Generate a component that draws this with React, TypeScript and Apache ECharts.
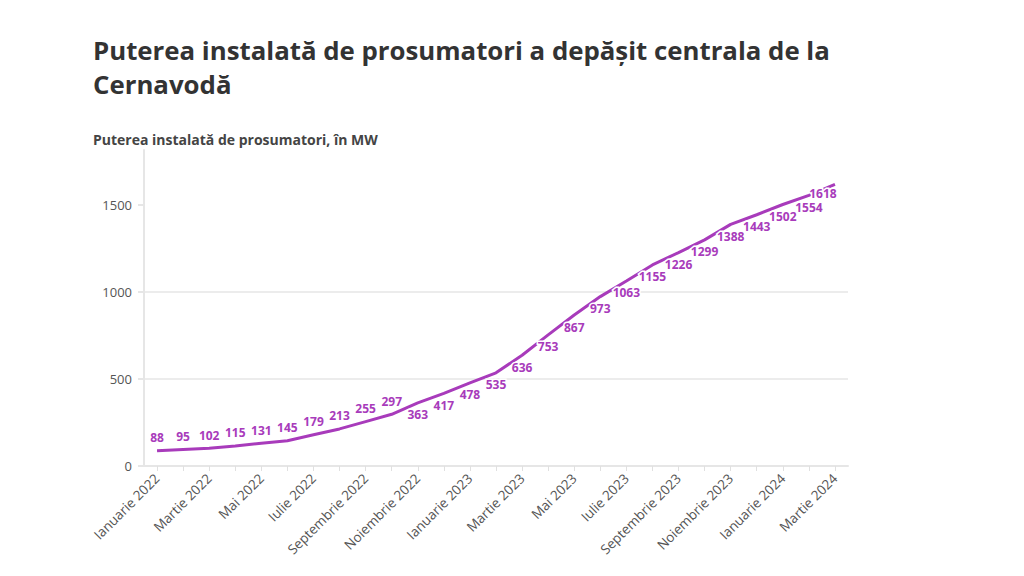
import React, { useEffect, useRef } from "react";
import * as echarts from "echarts";

const months = [
  "Ianuarie 2022", "Februarie 2022", "Martie 2022", "Aprilie 2022", "Mai 2022", "Iunie 2022",
  "Iulie 2022", "August 2022", "Septembrie 2022", "Octombrie 2022", "Noiembrie 2022", "Decembrie 2022",
  "Ianuarie 2023", "Februarie 2023", "Martie 2023", "Aprilie 2023", "Mai 2023", "Iunie 2023",
  "Iulie 2023", "August 2023", "Septembrie 2023", "Octombrie 2023", "Noiembrie 2023", "Decembrie 2023",
  "Ianuarie 2024", "Februarie 2024", "Martie 2024",
];
const power = [
  88, 95, 102, 115, 131, 145, 179, 213, 255, 297, 363, 417,
  478, 535, 636, 753, 867, 973, 1063, 1155, 1226, 1299, 1388, 1443,
  1502, 1554, 1618,
];
const yTicks = [0, 500, 1000, 1500];
const aboveCount = 10;

const title = "Puterea instalată de prosumatori a depășit centrala de la\nCernavodă";
const subtitle = "Puterea instalată de prosumatori, în MW";

const PURPLE = "#a83bbb";
const FONT = "'Source Sans Pro', 'Open Sans', Lato, sans-serif";

export default function App() {
  const ref = useRef<HTMLDivElement>(null);
  useEffect(() => {
    if (!ref.current) return;
    const chart = echarts.init(ref.current, undefined, { renderer: "svg" });
    const data = power.map((v, i) => {
      const above = i < aboveCount;
      return {
        value: v,
        label: {
          position: above ? "top" : "bottom",
          distance: above ? 6 : 5,
        },
      };
    });
    const lastIndex = power.length - 1;
    chart.setOption({
      animation: false,
      backgroundColor: "#ffffff",
      textStyle: { fontFamily: FONT },
      title: [
        {
          text: title,
          left: 80,
          top: 20,
          textStyle: { fontFamily: FONT, fontSize: 25.8, fontWeight: "bold", color: "#333333", lineHeight: 34 },
        },
        {
          text: subtitle,
          left: 80,
          top: 119,
          textStyle: { fontFamily: FONT, fontSize: 14, fontWeight: "bold", color: "#444444" },
        },
      ],
      grid: { left: 136, right: 168, top: 142, bottom: 102, containLabel: false },
      xAxis: {
        type: "category",
        data: months,
        boundaryGap: true,
        axisLine: { show: true, lineStyle: { color: "#e6e6e6", width: 2 } },
        axisTick: { show: true, alignWithLabel: true, interval: 0, length: 5, lineStyle: { color: "#e0e0e0", width: 1 } },
        axisLabel: {
          interval: 1,
          rotate: 45,
          color: "#555555",
          fontSize: 13.5,
          fontFamily: FONT,
          margin: 10,
        },
        splitLine: { show: false },
      },
      yAxis: {
        type: "value",
        min: 0,
        max: 1815,
        interval: 500,
        axisLine: { show: true, lineStyle: { color: "#e6e6e6", width: 2 } },
        axisTick: { show: true, length: 6, customValues: yTicks, lineStyle: { color: "#e6e6e6", width: 2 } },
        axisLabel: {
          color: "#555555",
          fontSize: 13,
          fontFamily: FONT,
          margin: 12,
          customValues: yTicks,
          formatter: (v: number) => String(v),
        },
        splitLine: { show: true, showMaxLine: false, lineStyle: { color: "#ececec", width: 2 } },
      },
      series: [
        {
          type: "line",
          data,
          smooth: false,
          showSymbol: true,
          symbol: "circle",
          symbolSize: 2,
          lineStyle: { color: PURPLE, width: 3 },
          itemStyle: { color: "rgba(0,0,0,0)", borderWidth: 0 },
          label: {
            show: true,
            color: PURPLE,
            fontSize: 12,
            fontWeight: "bold",
            fontFamily: FONT,
            textBorderColor: "#ffffff",
            textBorderWidth: 3,
          },
          labelLayout: (params: any) =>
            params.dataIndex === lastIndex
              ? { dx: -12, dy: -3, hideOverlap: false }
              : { hideOverlap: false },
        },
      ],
    });
    return () => chart.dispose();
  }, []);
  return <div ref={ref} style={{ width: 1008, height: 560 }} />;
}
